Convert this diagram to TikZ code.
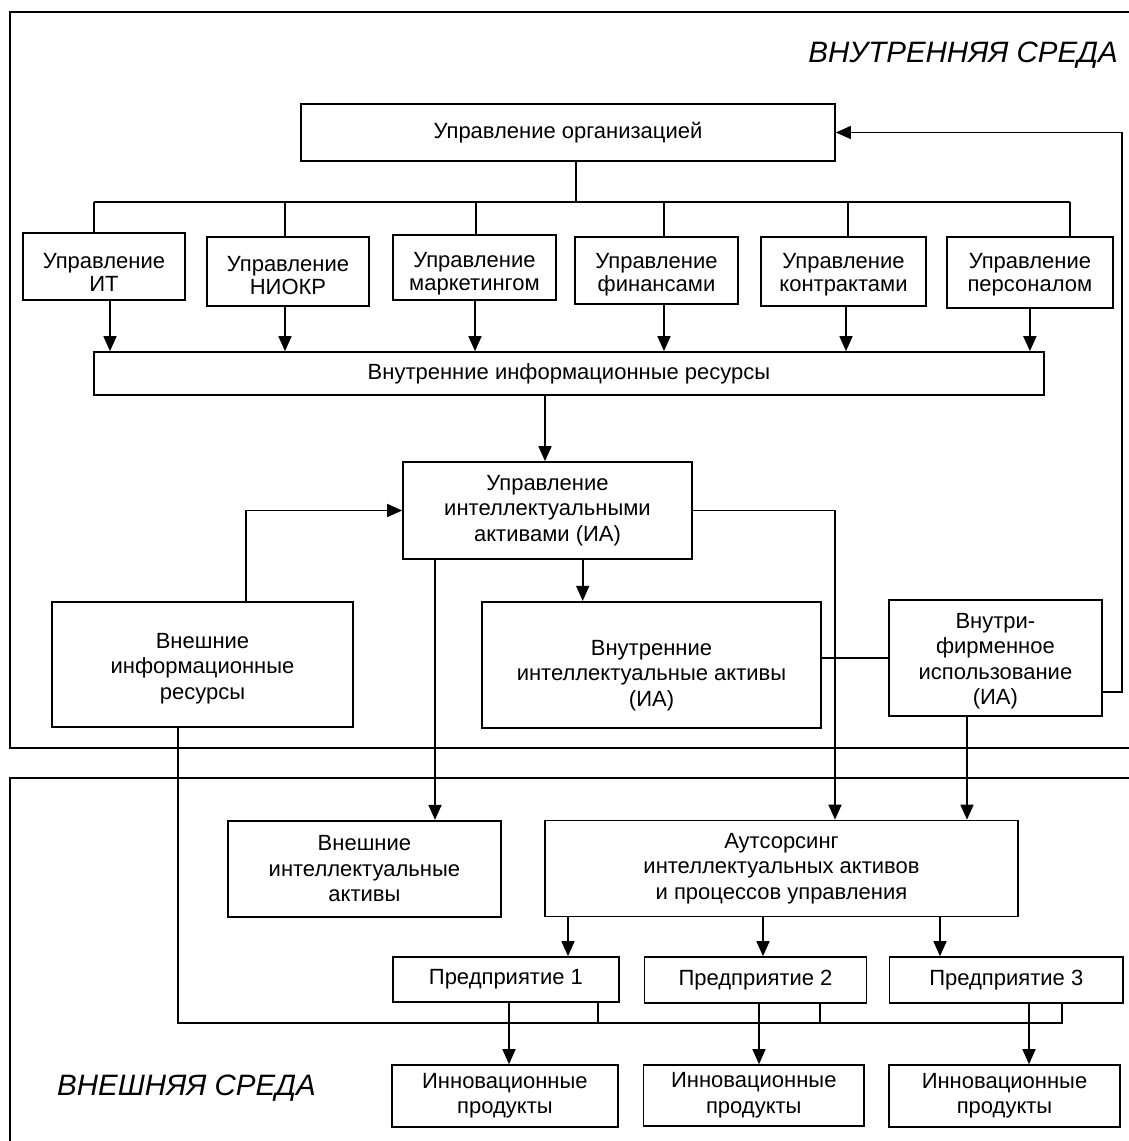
\documentclass[tikz,border=0pt]{standalone}
\usepackage{fontspec}
\setmainfont{Liberation Sans}
\usetikzlibrary{arrows.meta}
\begin{document}
\begin{tikzpicture}[x=1pt,y=-1pt,
  box/.style={draw, line width=1.7pt, inner sep=0pt, align=center, font=\fontsize{22}{25.5}\selectfont},
  txt/.style={inner sep=0pt, align=center, font=\fontsize{22}{25.5}\selectfont},
  mtxt/.style={txt, font=\fontsize{22}{23}\selectfont},
  conn/.style={line width=1.6pt},
  arr/.style={conn, -{Triangle[length=15pt,width=13pt]}},
  frameline/.style={line width=1.7pt},
  env/.style={font=\fontsize{29.5}{32}\selectfont\itshape, inner sep=0pt}
]
\fill[white] (0,0) rectangle (1129,1141);
\useasboundingbox (0,0) rectangle (1129,1141);

% environment frames
\draw[frameline] (1129,12) -- (10,12) -- (10,747.7) -- (1129,747.7);
\draw[frameline] (1129,778) -- (10,778) -- (10,1141);
\node[env, anchor=east] (inenv) at (1118,55) {ВНУТРЕННЯЯ СРЕДА};
\node[env, anchor=west] (exenv) at (57,1088) {ВНЕШНЯЯ СРЕДА};

% boxes
\node[box, minimum width=534, minimum height=57] (org) at (568,132.5) {Управление организацией};

\node[box, minimum width=162.3, minimum height=67] (m1) at (103.9,266.5) {};
\node[mtxt] (m1t) at (103.9,272.5) {Управление\\ИТ};
\node[box, minimum width=162, minimum height=69] (m2) at (288,271.5) {};
\node[mtxt] (m2t) at (288,275.5) {Управление\\НИОКР};
\node[box, minimum width=162.7, minimum height=65] (m3) at (474.4,267.5) {};
\node[mtxt] (m3t) at (474.4,273.5) {Управление\\маркетингом};
\node[box, minimum width=163, minimum height=67] (m4) at (656.5,270.5) {};
\node[mtxt] (m4t) at (656.5,274.5) {Управление\\финансами};
\node[box, minimum width=165, minimum height=69] (m5) at (843.5,271.5) {};
\node[mtxt] (m5t) at (843.5,274.5) {Управление\\контрактами};
\node[box, minimum width=166.3, minimum height=71] (m6) at (1029.9,272.5) {};
\node[mtxt] (m6t) at (1029.9,274.5) {Управление\\персоналом};

\node[box, minimum width=950, minimum height=43] (inres) at (569,373.5) {Внутренние информационные ресурсы};
\node[box, minimum width=289, minimum height=97] (uia) at (547.5,510.5) {Управление\\интеллектуальными\\активами (ИА)};

\node[box, minimum width=301, minimum height=125.3] (extres) at (202.5,664.4) {};
\node[txt] (extrest) at (202.5,668.5) {Внешние\\информационные\\ресурсы};
\node[box, minimum width=339, minimum height=126.3] (intia) at (651.5,664.9) {};
\node[txt] (intiat) at (651.5,675.5) {Внутренние\\интеллектуальные активы\\(ИА)};
\node[box, minimum width=212.7, minimum height=116] (inhouse) at (995.4,658) {};
\node[txt] (inhouset) at (995.4,661) {Внутри-\\фирменное\\использование\\(ИА)};

\node[box, minimum width=272.7, minimum height=96] (extia) at (364.4,868.7) {Внешние\\интеллектуальные\\активы};
\node[box, minimum width=473, minimum height=96] (out) at (781.5,868.5) {Аутсорсинг\\интеллектуальных активов\\и процессов управления};
\node[box, minimum width=226.3, minimum height=45] (e1) at (505.9,979.5) {Предприятие 1};
\node[box, minimum width=222, minimum height=46] (e2) at (755.5,980) {Предприятие 2};
\node[box, minimum width=233.5, minimum height=45.7] (e3) at (1006.3,979.9) {Предприятие 3};
\node[box, minimum width=225.7, minimum height=61.7] (p1) at (504.9,1095.9) {Инновационные\\продукты};
\node[box, minimum width=220.5, minimum height=60.7] (p2) at (753.8,1095.4) {Инновационные\\продукты};
\node[box, minimum width=231, minimum height=61.7] (p3) at (1004.5,1095.9) {Инновационные\\продукты};

% top bus
\coordinate (busL) at (94,201.7);
\coordinate (busR) at (1070,201.7);
\draw[conn] ([xshift=8pt]org.south) -- ([xshift=8pt]org.south |- busL);
\draw[conn] (busL) -- (busR);
\draw[conn] ([xshift=-9.9pt]m1.north) -- ([xshift=-9.9pt]m1.north |- busL);
\draw[conn] ([xshift=-3pt]m2.north) -- ([xshift=-3pt]m2.north |- busL);
\draw[conn] ([xshift=1.6pt]m3.north) -- ([xshift=1.6pt]m3.north |- busL);
\draw[conn] ([xshift=7.5pt]m4.north) -- ([xshift=7.5pt]m4.north |- busL);
\draw[conn] ([xshift=4.5pt]m5.north) -- ([xshift=4.5pt]m5.north |- busL);
\draw[conn] ([xshift=40.1pt]m6.north) -- ([xshift=40.1pt]m6.north |- busL);

% management -> internal info resources
\draw[arr] ([xshift=6.1pt]m1.south) -- ([xshift=6.1pt]m1.south |- inres.north);
\draw[arr] ([xshift=-3pt]m2.south) -- ([xshift=-3pt]m2.south |- inres.north);
\draw[arr] ([xshift=0.6pt]m3.south) -- ([xshift=0.6pt]m3.south |- inres.north);
\draw[arr] ([xshift=7.5pt]m4.south) -- ([xshift=7.5pt]m4.south |- inres.north);
\draw[arr] ([xshift=2.5pt]m5.south) -- ([xshift=2.5pt]m5.south |- inres.north);
\draw[arr] (m6.south) -- (m6.south |- inres.north);

% middle
\draw[arr] ([xshift=-2.5pt]uia.north |- inres.south) -- ([xshift=-2.5pt]uia.north);
\draw[arr] ([xshift=43.5pt]extres.north) |- (uia.west);
\draw[arr] ([xshift=35.2pt]uia.south) -- ([xshift=35.2pt]uia.south |- intia.north);
\draw[arr] ([xshift=-112.5pt]uia.south) -- ([xshift=-112.5pt]uia.south |- extia.north);
\draw[arr] (uia.east) -| ([xshift=53.5pt]out.north);
\draw[conn] (inhouse.west) -- (inhouse.west -| intia.east);
\draw[arr] ([xshift=-28.4pt]inhouse.south) -- ([xshift=-28.4pt]inhouse.south |- out.north);
\coordinate (fb) at (1122,692);
\draw[arr] ([yshift=-34pt]inhouse.east) -- (fb) |- (org.east);

% outsourcing -> enterprises
\draw[arr] ([xshift=-213.5pt]out.south) -- ([xshift=-213.5pt]out.south |- e1.north);
\draw[arr] ([xshift=-18.5pt]out.south) -- ([xshift=-18.5pt]out.south |- e2.north);
\draw[arr] ([xshift=158.5pt]out.south) -- ([xshift=158.5pt]out.south |- e3.north);

% enterprises -> products
\draw[arr] ([xshift=3.1pt]e1.south) -- ([xshift=3.1pt]e1.south |- p1.north);
\draw[arr] ([xshift=3.5pt]e2.south) -- ([xshift=3.5pt]e2.south |- p2.north);
\draw[arr] ([xshift=22.7pt]e3.south) -- ([xshift=22.7pt]e3.south |- p3.north);

% bottom bus from external info resources
\coordinate (bb) at (1062,1022.7);
\draw[conn] ([xshift=-24.5pt]extres.south) |- (bb) -- (bb |- e3.south);
\draw[conn] ([xshift=91.8pt]e1.south) -- ([xshift=91.8pt]e1.south |- bb);
\draw[conn] ([xshift=64.5pt]e2.south) -- ([xshift=64.5pt]e2.south |- bb);
\end{tikzpicture}
\end{document}
